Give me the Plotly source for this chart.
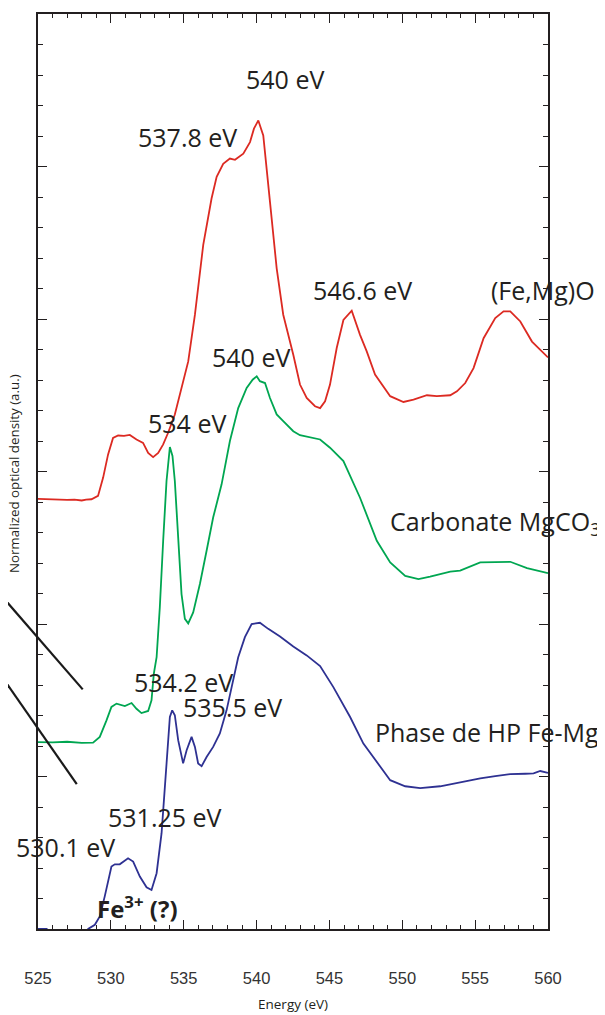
import plotly.graph_objects as go

# ---- data (Energy in eV, normalized optical density in a.u.) ----
feo_energy = [525.0, 526.0, 527.0, 527.5, 528.0, 528.3, 528.67, 529.12, 529.47, 529.81,
              530.15, 530.5, 530.9, 531.3, 531.76, 532.21, 532.56, 532.9, 533.25, 533.59,
              533.93, 534.39, 534.85, 535.31, 535.77, 536.34, 536.91, 537.26, 537.71, 538.17,
              538.52, 539.09, 539.55, 539.82, 540.12, 540.46, 540.92, 541.38, 541.83, 542.52,
              542.98, 543.44, 544.01, 544.36, 544.7, 545.04, 545.5, 545.96, 546.53, 547.1,
              547.56, 548.13, 549.17, 550.08, 550.77, 551.69, 552.37, 553.29, 553.75, 554.32,
              554.89, 555.58, 556.38, 556.95, 557.41, 558.1, 558.9, 559.59, 560.0]
feo_od = [14.10, 14.08, 14.07, 14.08, 14.05, 14.08, 14.09, 14.20, 14.80, 15.56,
          16.10, 16.18, 16.17, 16.20, 16.05, 15.94, 15.61, 15.47, 15.61, 15.89,
          16.27, 16.87, 17.74, 18.61, 20.14, 22.43, 23.95, 24.66, 25.09, 25.26,
          25.22, 25.42, 25.80, 26.24, 26.51, 26.02, 23.84, 21.66, 20.14, 18.83,
          17.85, 17.41, 17.14, 17.08, 17.30, 17.85, 19.05, 19.97, 20.27, 19.48,
          18.94, 18.18, 17.47, 17.28, 17.36, 17.50, 17.47, 17.50, 17.63, 17.90,
          18.39, 19.37, 20.03, 20.25, 20.25, 19.92, 19.26, 18.94, 18.74]

mgco3_energy = [525.0, 526.0, 527.0, 528.0, 528.78, 529.24, 529.7, 530.04, 530.39, 530.96,
                531.42, 531.76, 532.1, 532.56, 532.79, 532.95, 533.14, 533.36, 533.59, 533.82,
                534.05, 534.23, 534.39, 534.62, 534.85, 535.08, 535.31, 535.65, 536.11, 536.57,
                537.02, 537.6, 538.17, 538.74, 539.32, 539.73, 540.01, 540.23, 540.58, 540.92,
                541.38, 541.83, 542.52, 542.98, 543.9, 544.36, 545.04, 545.96, 547.1, 548.25,
                549.17, 550.2, 551.11, 551.91, 553.29, 553.97, 555.35, 556.72, 557.41, 558.56,
                559.25, 560.0]
mgco3_od = [6.13, 6.12, 6.14, 6.10, 6.11, 6.30, 6.84, 7.28, 7.39, 7.31,
            7.41, 7.22, 7.08, 7.15, 7.50, 8.37, 8.91, 10.55, 12.73, 14.69,
            15.80, 15.51, 14.69, 12.73, 10.98, 10.17, 10.02, 10.38, 11.31, 12.40,
            13.49, 14.58, 16.00, 17.08, 17.74, 18.01, 18.12, 17.96, 17.90, 17.41,
            16.87, 16.65, 16.32, 16.19, 16.10, 16.05, 15.78, 15.34, 14.14, 12.73,
            12.02, 11.58, 11.47, 11.55, 11.72, 11.75, 12.02, 12.02, 12.04, 11.83,
            11.75, 11.67]

hp_energy = [525.0, 525.6, 526.2, 527.0, 528.0, 528.44, 528.9, 529.24, 529.58, 529.81,
             530.04, 530.27, 530.61, 531.18, 531.53, 531.99, 532.45, 532.79, 533.14, 533.48,
             533.71, 533.86, 534.05, 534.21, 534.39, 534.62, 534.96, 535.2, 535.54, 535.77,
             535.99, 536.23, 536.57, 537.02, 537.48, 537.94, 538.4, 538.74, 539.2, 539.66,
             540.23, 540.8, 541.61, 542.52, 543.44, 544.36, 545.27, 546.42, 547.33, 548.48,
             549.17, 550.2, 551.23, 552.6, 553.97, 555.35, 556.38, 557.41, 558.44, 559.01,
             559.47, 560.0]
hp_od = [0.00, 0.00, -0.6, -0.8, -0.4, 0.00, 0.14, 0.41, 1.07, 1.61,
         2.05, 2.12, 2.12, 2.32, 2.21, 1.72, 1.37, 1.28, 1.83, 3.14,
         4.66, 5.86, 6.95, 7.17, 7.01, 6.19, 5.43, 5.86, 6.30, 5.97,
         5.43, 5.34, 5.64, 5.97, 6.41, 7.17, 8.15, 8.91, 9.57, 10.00,
         10.04, 9.84, 9.59, 9.26, 8.97, 8.62, 7.93, 6.95, 6.08, 5.32,
         4.88, 4.68, 4.62, 4.68, 4.82, 4.94, 5.01, 5.08, 5.09, 5.10,
         5.18, 5.12]

x_ticks = [525, 530, 535, 540, 545, 550, 555, 560]

labels_text = ["540 eV", "537.8 eV", "546.6 eV", "(Fe,Mg)O", "540 eV", "534 eV",
               "Carbonate MgCO<sub>3</sub>", "534.2 eV", "535.5 eV", "Phase de HP Fe-Mg",
               "531.25 eV", "530.1 eV"]
labels_x = [541.95, 535.25, 547.28, 559.68, 539.61, 535.25, 549.05, 534.99, 538.34, 548.02,
            533.71, 526.87]
labels_y = [27.86, 25.97, 20.95, 20.95, 18.77, 16.59, 13.32, 8.09, 7.28, 6.46, 3.68, 2.70]
labels_anchor = ["center", "center", "center", "center", "center", "center", "left",
                 "center", "center", "left", "center", "center"]

INK = "#231f20"

fig = go.Figure()
fig.add_trace(go.Scatter(x=feo_energy, y=feo_od, mode="lines",
                         line=dict(color="#dc2a22", width=1.8), name="(Fe,Mg)O"))
fig.add_trace(go.Scatter(x=mgco3_energy, y=mgco3_od, mode="lines",
                         line=dict(color="#00a651", width=1.8), name="MgCO3"))
fig.add_trace(go.Scatter(x=hp_energy, y=hp_od, mode="lines",
                         line=dict(color="#2e3192", width=1.8), name="HP Fe-Mg"))

annotations = []
for t, x, y, a in zip(labels_text, labels_x, labels_y, labels_anchor):
    annotations.append(dict(text=t, x=x, y=y, xref="x", yref="y", showarrow=False,
                            xanchor=a, yanchor="middle",
                            font=dict(family="Open Sans", size=25, color=INK)))
annotations.append(dict(text="<b>Fe<sup>3+</sup> (?)</b>", x=531.85, y=0.72, xref="x", yref="y",
                        showarrow=False, xanchor="center", yanchor="middle",
                        font=dict(family="Open Sans", size=24, color=INK)))
annotations.append(dict(text="Energy (eV)", x=0.5, y=-0.0815, xref="paper", yref="paper",
                        showarrow=False, xanchor="center", yanchor="middle",
                        font=dict(family="Open Sans", size=13.5, color=INK)))
annotations.append(dict(text="Normalized optical density (a.u.)", x=-0.0472, y=0.4982,
                        xref="paper", yref="paper", showarrow=False, textangle=-90,
                        xanchor="center", yanchor="middle",
                        font=dict(family="Open Sans", size=13.3, color=INK)))

shapes = [
    dict(type="line", xref="paper", yref="paper", x0=-0.0752, y0=0.3665, x1=0.0877, y1=0.2619,
         line=dict(color="#1a1a1a", width=2.2)),
    dict(type="line", xref="paper", yref="paper", x0=-0.0752, y0=0.2793, x1=0.0760, y1=0.1583,
         line=dict(color="#1a1a1a", width=2.2)),
]

# page body has an 8px default margin: size the figure so the plot lands where the reference has it
fig.update_layout(
    width=597, height=1007,
    margin=dict(l=30, r=57, t=4, b=86, pad=0),
    plot_bgcolor="white", paper_bgcolor="white",
    showlegend=False,
    annotations=annotations,
    shapes=shapes,
)
fig.update_xaxes(
    range=[525, 560], tickmode="array", tickvals=x_ticks, ticktext=[str(v) for v in x_ticks],
    ticks="inside", ticklen=9, tickwidth=1.2, tickcolor=INK,
    showline=True, linecolor=INK, linewidth=1.5, mirror="ticks",
    showgrid=False, zeroline=False,
    minor=dict(dtick=1, tick0=525, ticks="inside", ticklen=4, tickwidth=1, tickcolor=INK, showgrid=False),
    tickfont=dict(family="Liberation Sans", size=16.5, color="#333333"),
    ticklabelstandoff=33,
)
fig.update_yaxes(
    range=[0, 30], tickmode="linear", tick0=0, dtick=5,
    ticks="inside", ticklen=9, tickwidth=1.2, tickcolor=INK,
    showline=True, linecolor=INK, linewidth=1.5, mirror="ticks",
    showgrid=False, zeroline=False, showticklabels=False,
    minor=dict(dtick=1, tick0=0, ticks="inside", ticklen=5, tickwidth=1, tickcolor=INK, showgrid=False),
)

fig.write_html("out.html")
